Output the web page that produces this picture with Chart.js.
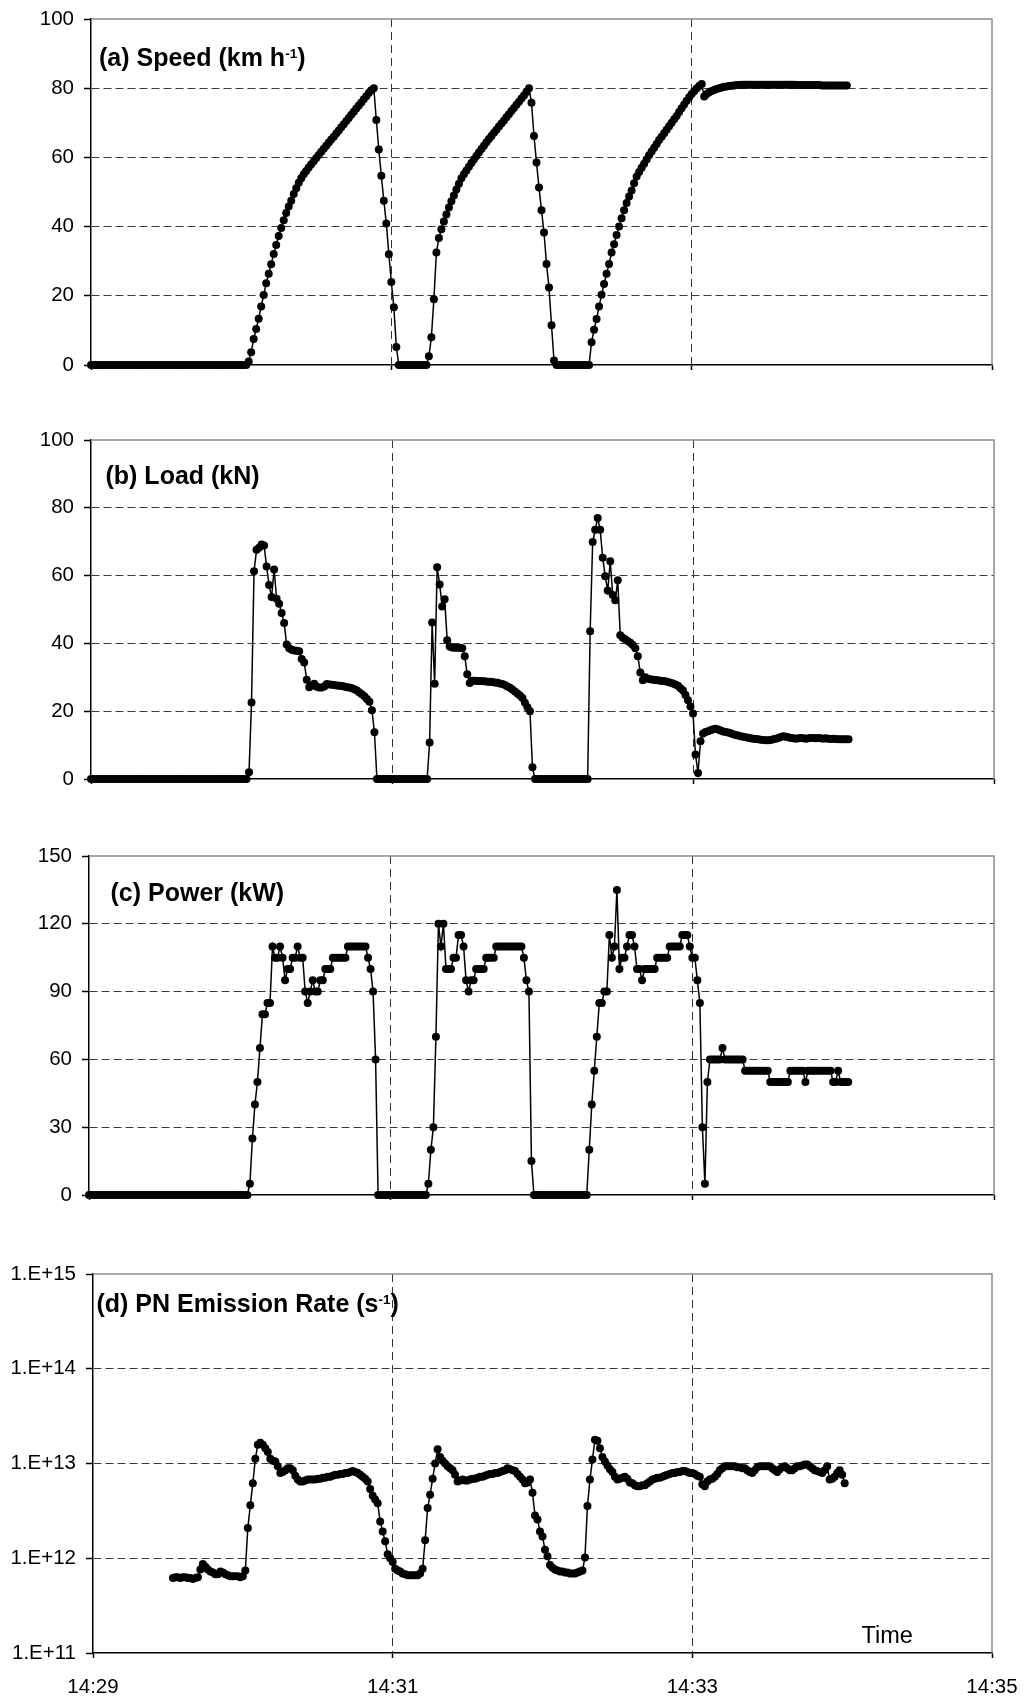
<!DOCTYPE html>
<html>
<head>
<meta charset="utf-8">
<title>Speed, load, power and PN emission rate</title>
<script src="https://cdn.jsdelivr.net/npm/chart.js@4.4.0/dist/chart.umd.min.js"></script>
<style>
  body { margin: 0; background: #fff; }
  #wrap { position: relative; width: 1029px; height: 1697px; overflow: hidden;
          font-family: "Liberation Sans", Arial, sans-serif; color: #000; }
  canvas { position: absolute; left: 0; }
  .title { position: absolute; font-weight: bold; font-size: 25px; line-height: 25px; white-space: nowrap; }
  .title sup { font-size: 13.5px; vertical-align: 8px; line-height: 0; }
  .note { position: absolute; font-size: 23.5px; line-height: 23.5px; white-space: nowrap; }
</style>
</head>
<body>
<div id="wrap">
  <canvas id="speedChart"></canvas>
  <canvas id="loadChart"></canvas>
  <canvas id="powerChart"></canvas>
  <canvas id="pnChart"></canvas>
  <div class="title" style="left:99px; top:45px">(a) Speed (km h<sup>-1</sup>)</div>
  <div class="title" style="left:105.5px; top:463px">(b) Load (kN)</div>
  <div class="title" style="left:110.5px; top:879.5px">(c) Power (kW)</div>
  <div class="title" style="left:96.5px; top:1290.5px">(d) PN Emission Rate (s<sup>-1</sup>)</div>
  <div class="note" style="left:861.5px; top:1623.5px">Time</div>
</div>
<script>
// time axis: seconds after 14:29:00, one sample per second
const timeTicks = [0, 120, 240, 360];
const timeLabels = ['14:29', '14:31', '14:33', '14:35'];

const speedTicks = [0, 20, 40, 60, 80, 100];
const loadTicks = [0, 20, 40, 60, 80, 100];
const powerTicks = [0, 30, 60, 90, 120, 150];
const pnTicks = [1e11, 1e12, 1e13, 1e14, 1e15];
const pnTickLabels = ['1.E+11', '1.E+12', '1.E+13', '1.E+14', '1.E+15'];

// (a) speed, km/h, from t = 0 s
const speedStart = 0;
const speed = [
  0,0,0,0,0,0,0,0,0,0,
  0,0,0,0,0,0,0,0,0,0,
  0,0,0,0,0,0,0,0,0,0,
  0,0,0,0,0,0,0,0,0,0,
  0,0,0,0,0,0,0,0,0,0,
  0,0,0,0,0,0,0,0,0,0,
  0,0,0,1.0,3.7,7.5,10.4,13.4,16.9,20.2,
  23.6,26.4,29.1,32.1,34.7,37.3,39.6,41.8,43.9,45.8,
  47.5,49.4,51.1,52.7,54.0,55.1,56.1,57.1,58.0,58.9,
  59.8,60.7,61.6,62.5,63.4,64.3,65.2,66.0,66.9,67.8,
  68.7,69.6,70.5,71.4,72.3,73.2,74.1,75.0,75.9,76.8,
  77.7,78.6,79.4,80.0,70.8,62.3,54.7,47.5,40.9,32.0,
  24.0,16.7,5.2,0,0,0,0,0,0,0,
  0,0,0,0,0,2.5,8.0,19.0,32.5,36.7,
  39.2,41.5,43.5,45.5,47.3,49.0,50.7,52.4,54.0,55.1,
  56.2,57.3,58.4,59.4,60.4,61.4,62.4,63.4,64.4,65.3,
  66.2,67.1,68.0,68.9,69.8,70.7,71.6,72.5,73.4,74.3,
  75.2,76.1,77.0,77.9,78.9,80.0,75.8,66.2,58.5,51.3,
  44.7,38.3,29.2,22.4,11.5,1.3,0,0,0,0,
  0,0,0,0,0,0,0,0,0,0,
  6.6,10.2,13.3,16.9,20.3,23.4,26.4,29.2,32.5,34.9,
  37.6,40.0,42.4,44.7,46.8,48.7,50.4,52.5,54.5,55.8,
  57.0,58.2,59.4,60.6,61.7,62.8,63.9,65.0,66.0,67.0,
  68.0,69.0,70.0,71.0,72.0,73.1,74.2,75.3,76.4,77.4,
  78.3,79.1,79.9,80.6,81.2,77.6,78.3,78.8,79.2,79.5,
  79.8,80.0,80.2,80.4,80.5,80.6,80.7,80.8,80.9,80.9,
  81.0,81.0,81.0,81.0,81.0,81.0,81.0,81.0,81.0,81.0,
  81.0,81.0,81.0,81.0,81.0,81.0,81.0,81.0,81.0,81.0,
  81.0,81.0,80.9,80.9,80.9,80.9,80.9,80.9,80.9,80.9,
  80.9,80.9,80.8,80.8,80.8,80.8,80.8,80.8,80.8,80.8,
  80.8,80.8,80.8
];

// (b) load, kN, from t = 0 s
const loadStart = 0;
const load = [
  0,0,0,0,0,0,0,0,0,0,
  0,0,0,0,0,0,0,0,0,0,
  0,0,0,0,0,0,0,0,0,0,
  0,0,0,0,0,0,0,0,0,0,
  0,0,0,0,0,0,0,0,0,0,
  0,0,0,0,0,0,0,0,0,0,
  0,0,0,2.0,22.6,61.3,67.6,68.2,69.2,68.9,
  62.7,57.2,53.7,61.8,53.2,51.7,49.0,46.0,39.7,38.6,
  38.1,37.9,37.8,37.7,35.4,34.4,29.3,27.1,27.6,28.1,
  27.2,27.0,27.0,27.3,28.0,27.9,27.8,27.7,27.6,27.5,
  27.4,27.3,27.1,27.0,26.8,26.5,26.1,25.5,25.0,24.4,
  23.6,22.8,20.3,13.8,0,0,0,0,0,0,
  0,0,0,0,0,0,0,0,0,0,
  0,0,0,0,0,10.8,46.2,28.1,62.5,57.4,
  50.9,53.0,40.9,39.1,38.8,38.7,38.7,38.7,38.6,36.2,
  30.9,28.3,29.0,29.0,28.9,28.9,28.8,28.8,28.7,28.7,
  28.6,28.5,28.4,28.2,28.0,27.7,27.3,26.9,26.4,25.8,
  25.2,24.6,23.9,22.5,21.2,20.0,3.5,0,0,0,
  0,0,0,0,0,0,0,0,0,0,
  0,0,0,0,0,0,0,0,0,43.6,
  69.9,73.5,77.0,73.5,65.3,59.8,55.6,64.2,54.3,52.7,
  58.6,42.4,41.7,41.2,40.7,40.2,39.5,38.6,36.2,31.4,
  29.1,30.0,29.6,29.4,29.3,29.2,29.1,29.0,28.9,28.8,
  28.6,28.4,28.2,27.9,27.5,26.8,26.1,24.8,23.2,21.4,
  19.3,7.2,1.8,11.1,13.4,13.9,14.1,14.4,14.7,14.8,
  14.6,14.3,14.0,13.9,13.7,13.5,13.2,13.0,12.8,12.6,
  12.5,12.3,12.2,12.0,11.9,11.8,11.7,11.6,11.5,11.4,
  11.4,11.5,11.7,11.9,12.1,12.4,12.6,12.5,12.3,12.1,
  12.0,11.9,12.0,12.1,12.0,11.9,12.0,12.1,12.1,12.0,
  12.1,12.0,11.9,12.0,11.9,11.8,11.9,11.8,11.7,11.7,
  11.7,11.7,11.7
];

// (c) power, kW, from t = 0 s
const powerStart = 0;
const power = [
  0,0,0,0,0,0,0,0,0,0,
  0,0,0,0,0,0,0,0,0,0,
  0,0,0,0,0,0,0,0,0,0,
  0,0,0,0,0,0,0,0,0,0,
  0,0,0,0,0,0,0,0,0,0,
  0,0,0,0,0,0,0,0,0,0,
  0,0,0,0,5,25,40,50,65,80,
  80,85,85,110,105,105,110,105,95,100,
  100,105,105,110,105,105,90,85,90,95,
  90,90,95,95,100,100,100,105,105,105,
  105,105,105,110,110,110,110,110,110,110,
  110,105,100,90,60,0,0,0,0,0,
  0,0,0,0,0,0,0,0,0,0,
  0,0,0,0,0,5,20,30,70,120,
  110,120,100,100,100,105,105,115,115,110,
  95,90,95,95,100,100,100,100,105,105,
  105,105,110,110,110,110,110,110,110,110,
  110,110,110,105,95,90,15,0,0,0,
  0,0,0,0,0,0,0,0,0,0,
  0,0,0,0,0,0,0,0,0,20,
  40,55,70,85,85,90,90,115,105,110,
  135,100,105,105,110,115,115,110,100,100,
  95,100,100,100,100,100,105,105,105,105,
  105,110,110,110,110,110,115,115,115,110,
  105,105,95,85,30,5,50,60,60,60,
  60,60,65,60,60,60,60,60,60,60,
  60,55,55,55,55,55,55,55,55,55,
  55,50,50,50,50,50,50,50,50,55,
  55,55,55,55,55,50,55,55,55,55,
  55,55,55,55,55,55,50,50,55,50,
  50,50,50
];

// (d) PN emission rate, particles/s, from t = 32 s
const pnStart = 32;
const pnRate = [
  6.17e11,6.31e11,6.31e11,6.17e11,6.31e11,6.31e11,6.17e11,6.17e11,6.03e11,6.17e11,
  6.31e11,7.59e11,8.71e11,8.13e11,7.59e11,7.24e11,7.08e11,6.76e11,6.76e11,7.24e11,
  7.08e11,6.76e11,6.61e11,6.46e11,6.46e11,6.46e11,6.46e11,6.31e11,6.46e11,7.41e11,
  2.09e12,3.63e12,6.17e12,1.12e13,1.58e13,1.66e13,1.58e13,1.45e13,1.32e13,1.12e13,
  1.07e13,1.05e13,9.33e12,7.94e12,8.13e12,8.51e12,8.91e12,8.91e12,8.51e12,7.41e12,
  6.76e12,6.46e12,6.46e12,6.61e12,6.76e12,6.76e12,6.76e12,6.76e12,6.92e12,6.92e12,
  7.08e12,7.08e12,7.24e12,7.24e12,7.41e12,7.59e12,7.59e12,7.76e12,7.76e12,7.94e12,
  7.94e12,8.13e12,8.32e12,8.13e12,7.94e12,7.59e12,7.24e12,6.92e12,6.46e12,5.37e12,
  4.57e12,4.17e12,3.80e12,2.45e12,1.91e12,1.51e12,1.10e12,1.00e12,9.12e11,7.76e11,
  7.41e11,7.24e11,6.92e11,6.76e11,6.61e11,6.61e11,6.61e11,6.61e11,6.61e11,6.92e11,
  7.76e11,1.55e12,3.39e12,4.68e12,6.92e12,1.00e13,1.41e13,1.17e13,1.07e13,1.00e13,
  9.33e12,8.91e12,8.51e12,7.59e12,6.46e12,6.61e12,6.76e12,6.61e12,6.61e12,6.76e12,
  6.92e12,6.92e12,7.08e12,7.24e12,7.24e12,7.41e12,7.59e12,7.76e12,7.76e12,7.94e12,
  7.94e12,8.13e12,8.32e12,8.51e12,8.91e12,8.71e12,8.51e12,8.32e12,7.76e12,7.24e12,
  6.76e12,6.17e12,6.31e12,6.76e12,4.90e12,2.82e12,2.57e12,1.91e12,1.70e12,1.23e12,
  1.05e12,8.51e11,7.94e11,7.59e11,7.41e11,7.24e11,7.24e11,7.08e11,7.08e11,6.92e11,
  6.92e11,6.92e11,7.08e11,7.24e11,7.41e11,1.02e12,3.55e12,6.76e12,1.10e13,1.78e13,
  1.74e13,1.45e13,1.17e13,1.05e13,9.55e12,8.71e12,8.13e12,7.24e12,6.76e12,6.92e12,
  7.08e12,7.24e12,6.92e12,6.31e12,6.17e12,5.89e12,5.75e12,5.75e12,5.89e12,5.89e12,
  6.17e12,6.46e12,6.76e12,6.92e12,7.08e12,7.08e12,7.24e12,7.41e12,7.59e12,7.76e12,
  7.94e12,7.94e12,8.13e12,8.13e12,8.32e12,8.32e12,8.13e12,7.94e12,7.94e12,7.76e12,
  7.41e12,7.24e12,6.03e12,5.75e12,6.46e12,6.76e12,6.92e12,7.24e12,7.76e12,8.51e12,
  8.91e12,9.33e12,9.33e12,9.33e12,9.33e12,9.33e12,9.12e12,9.12e12,8.91e12,8.91e12,
  8.51e12,8.13e12,7.94e12,8.51e12,9.12e12,9.33e12,9.33e12,9.33e12,9.33e12,9.33e12,
  8.91e12,8.51e12,8.13e12,8.71e12,9.12e12,9.33e12,8.91e12,8.51e12,8.51e12,8.91e12,
  9.33e12,9.33e12,9.55e12,9.77e12,9.77e12,9.33e12,8.91e12,8.51e12,8.32e12,8.13e12,
  7.94e12,8.51e12,9.33e12,6.76e12,6.92e12,7.24e12,7.94e12,8.51e12,7.59e12,6.17e12
];

const FONT = '"Liberation Sans", Arial, sans-serif';
const PAGE_W = 1029;
const CLEAR = 'rgba(0,0,0,0)';

function toPoints(start, values) {
  return values.map((v, i) => ({ x: start + i, y: v }));
}

// gray top and right edge of each plot area
const framePlugin = {
  id: 'frame',
  beforeDatasetsDraw(chart) {
    const { ctx, chartArea: a } = chart;
    ctx.save();
    ctx.strokeStyle = '#8c8c8c';
    ctx.lineWidth = 1.5;
    ctx.beginPath();
    ctx.moveTo(a.left, a.top);
    ctx.lineTo(a.right, a.top);
    ctx.lineTo(a.right, a.bottom);
    ctx.stroke();
    ctx.restore();
  }
};

function makePanel(box, values, start, yOpts) {
  const canvas = document.getElementById(box.id);
  canvas.width = PAGE_W;
  canvas.height = box.plotBottom - box.canvasTop + box.xAxis;
  canvas.style.top = box.canvasTop + 'px';
  const yLast = yOpts.ticks.length - 1;
  const xLast = timeTicks.length - 1;

  return new Chart(canvas, {
    type: 'line',
    data: {
      datasets: [{
        data: toPoints(start, values),
        borderColor: '#000',
        borderWidth: 1.5,
        pointRadius: 4,
        pointHoverRadius: 4,
        pointBackgroundColor: '#000',
        pointBorderWidth: 0,
        tension: 0,
        clip: false
      }]
    },
    options: {
      responsive: false,
      animation: false,
      events: [],
      layout: { padding: { left: 0, right: PAGE_W - box.right, top: box.plotTop - box.canvasTop, bottom: 0 } },
      plugins: { legend: { display: false }, tooltip: { enabled: false } },
      scales: {
        x: {
          type: 'linear',
          min: 0,
          max: 360,
          afterBuildTicks: s => { s.ticks = timeTicks.map(v => ({ value: v })); },
          afterFit: s => { s.height = box.xAxis; s.paddingLeft = 0; s.paddingRight = 0; },
          ticks: {
            display: box.showTime,
            autoSkip: false,
            maxRotation: 0,
            padding: 17,
            color: '#000',
            font: { family: FONT, size: 20.5 },
            callback: v => timeLabels[timeTicks.indexOf(v)]
          },
          grid: {
            color: c => (c.index === 0 || c.index === xLast) ? CLEAR : '#333',
            lineWidth: 1,
            tickLength: 5,
            tickColor: '#000',
            tickWidth: 1.5
          },
          border: { color: '#000', width: 1.5, dash: [8, 5] }
        },
        y: {
          type: yOpts.type,
          min: yOpts.ticks[0],
          max: yOpts.ticks[yLast],
          afterBuildTicks: s => { s.ticks = yOpts.ticks.map(v => ({ value: v })); },
          afterFit: s => { s.width = box.left; s.paddingTop = 0; s.paddingBottom = 0; },
          ticks: {
            padding: 10,
            color: '#000',
            font: { family: FONT, size: 20.5 },
            callback: (v, i) => yOpts.labels[i]
          },
          grid: {
            color: c => (c.index === 0 || c.index === yLast) ? CLEAR : '#3c3c3c',
            lineWidth: 1,
            tickLength: 7,
            tickColor: '#000',
            tickWidth: 1.5
          },
          border: { color: '#000', width: 1.5, dash: [8, 4] }
        }
      }
    },
    plugins: [framePlugin]
  });
}

makePanel(
  { id: 'speedChart', canvasTop: 0, plotTop: 19, plotBottom: 365, left: 91, right: 992, xAxis: 14, showTime: false },
  speed, speedStart,
  { type: 'linear', ticks: speedTicks, labels: speedTicks.map(String) }
);
makePanel(
  { id: 'loadChart', canvasTop: 400, plotTop: 440, plotBottom: 779, left: 91, right: 994, xAxis: 14, showTime: false },
  load, loadStart,
  { type: 'linear', ticks: loadTicks, labels: loadTicks.map(String) }
);
makePanel(
  { id: 'powerChart', canvasTop: 810, plotTop: 856, plotBottom: 1195, left: 89, right: 994, xAxis: 14, showTime: false },
  power, powerStart,
  { type: 'linear', ticks: powerTicks, labels: powerTicks.map(String) }
);
makePanel(
  { id: 'pnChart', canvasTop: 1230, plotTop: 1274, plotBottom: 1653, left: 93, right: 992, xAxis: 44, showTime: true },
  pnRate, pnStart,
  { type: 'logarithmic', ticks: pnTicks, labels: pnTickLabels }
);
</script>
</body>
</html>
